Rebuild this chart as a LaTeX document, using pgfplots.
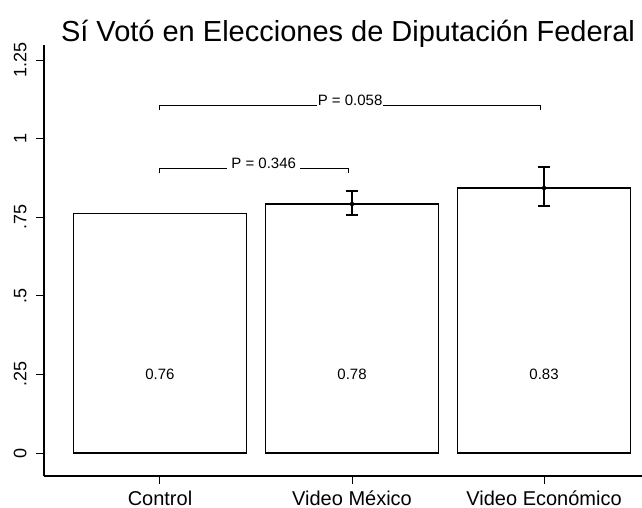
\documentclass[border=0pt]{standalone}
\usepackage{pgfplots}
\pgfplotsset{compat=1.18}
\usepackage{fontspec}
\setmainfont{Liberation Sans}
\begin{document}
\begin{tikzpicture}[x=1bp,y=1bp]
\useasboundingbox (0,0) rectangle (642,508);
\begin{axis}[
  at={(44bp,32bp)}, anchor=south west,
  scale only axis, width=598bp, height=431bp,
  xmin=-0.604, xmax=2.51, ymin=-0.073, ymax=1.298,
  axis x line*=bottom, axis y line*=left,
  axis line style={-, line width=1.2pt, black},
  xtick={0,1,2},
  xticklabels={Control, Video México, Video Económico},
  ytick={0,0.25,0.5,0.75,1,1.25},
  yticklabels={0,.25,.5,.75,1,1.25},
  yticklabel style={rotate=90, anchor=south, font=\fontsize{18bp}{20bp}\selectfont},
  yticklabel shift=6bp,
  xticklabel style={font=\fontsize{20bp}{22bp}\selectfont},
  xticklabel shift=3bp,
  tick align=outside, major tick length=8bp,
  tick style={black, line width=1pt},
  /pgf/number format/assume math mode=true,
  clip=false,
]
\addplot[ybar, bar width=0.9, draw=black, line width=1.4pt, fill=white]
  coordinates {(0,0.762) (1,0.792) (2,0.843)};
\addplot[only marks, mark=none, forget plot,
  error bars/.cd, y dir=both, y explicit,
  error bar style={black, line width=2pt},
  error mark options={black, rotate=90, mark size=6bp, line width=2pt}]
  coordinates {(1,0.792) += (0,0.042) -= (0,0.036) (2,0.843) += (0,0.066) -= (0,0.058)};
\node[font=\fontsize{15bp}{17bp}\selectfont] at (axis cs:0,0.25) {0.76};
\node[font=\fontsize{15bp}{17bp}\selectfont] at (axis cs:1,0.25) {0.78};
\node[font=\fontsize{15bp}{17bp}\selectfont] at (axis cs:2,0.25) {0.83};
\draw[line width=1pt] (axis cs:0,0.89) -- (axis cs:0,0.906) -- (axis cs:0.98,0.906) -- (axis cs:0.98,0.89);
\node[anchor=base, fill=white, inner xsep=4bp, inner ysep=1bp, font=\fontsize{15bp}{17bp}\selectfont] at (axis cs:0.54,0.906) {P = 0.346};
\draw[line width=1pt] (axis cs:0,1.091) -- (axis cs:0,1.107) -- (axis cs:1.98,1.107) -- (axis cs:1.98,1.091);
\node[anchor=base, fill=white, inner xsep=1bp, inner ysep=1bp, font=\fontsize{15bp}{17bp}\selectfont] at (axis cs:0.99,1.107) {P = 0.058};
\end{axis}
\node[anchor=base, font=\fontsize{29bp}{34bp}\selectfont] at (348,466) {Sí Votó en Elecciones de Diputación Federal};
\end{tikzpicture}
\end{document}
